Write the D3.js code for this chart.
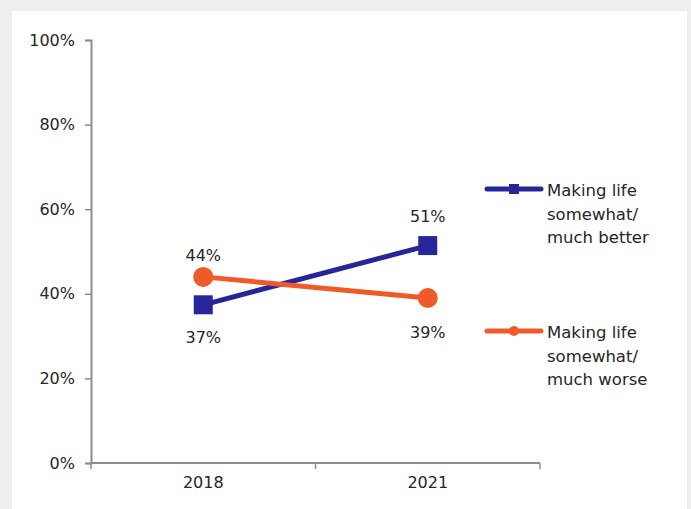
<!DOCTYPE html>
<html><head><meta charset="utf-8">
<script src="https://cdn.jsdelivr.net/npm/d3@7"></script>
<style>
html,body{margin:0;padding:0;background:#eeeeee;}
svg{display:block;}
text{font-family:"DejaVu Sans",sans-serif;fill:#262626;}
</style></head><body>
<svg id="c" width="691" height="509"></svg>
<script>
const categories = ["2018", "2021"];
const seriesNames = ["Making life somewhat/ much better", "Making life somewhat/ much worse"];
const better = [0.374, 0.514];
const worse = [0.44, 0.39];
const yTicks = [0, 0.2, 0.4, 0.6, 0.8, 1.0];

const svg = d3.select("#c");
svg.append("rect").attr("x", 12).attr("y", 11).attr("width", 675).attr("height", 498).attr("fill", "#fff");

const x0 = 91, x1 = 540, yTop = 40, yBot = 463;
const x = d3.scaleBand().domain(categories).range([x0, x1]);
const y = d3.scaleLinear().domain([0, 1]).range([yBot, yTop]);
const axisColor = "#8c8c8c";

const yAxis = svg.append("g").attr("transform", `translate(${x0},0)`)
  .call(d3.axisLeft(y).tickValues(yTicks).tickFormat(d3.format(".0%")).tickSize(6).tickPadding(10));
const xAxis = svg.append("g").attr("transform", `translate(0,${yBot})`)
  .call(d3.axisBottom(x).tickSize(0).tickPadding(14));
[yAxis, xAxis].forEach(g => {
  g.selectAll("path.domain").attr("stroke", axisColor).attr("stroke-width", 2);
  g.selectAll("line").attr("stroke", axisColor).attr("stroke-width", 1.5);
  g.selectAll("text").style("font-family", "DejaVu Sans, sans-serif").style("font-size", "16px").attr("fill", "#262626");
});
xAxis.select("path.domain").attr("d", `M${x0},0H${x1}`);
const bounds = [x0].concat(categories.map(c => x(c) + x.bandwidth()));
xAxis.selectAll("line.b").data(bounds).enter().append("line").attr("class", "b")
  .attr("x1", d => d).attr("x2", d => d).attr("y1", 0).attr("y2", 6)
  .attr("stroke", axisColor).attr("stroke-width", 1.5);

const cx = c => x(c) + x.bandwidth() / 2;
const blue = "#272699", orange = "#f05a28";
const line = d3.line().x((d, i) => cx(categories[i])).y(d => y(d));

svg.append("path").datum(better).attr("d", line).attr("fill", "none").attr("stroke", blue).attr("stroke-width", 5);
svg.append("path").datum(worse).attr("d", line).attr("fill", "none").attr("stroke", orange).attr("stroke-width", 5);

svg.selectAll("rect.mb").data(better).enter().append("rect").attr("class", "mb")
  .attr("x", (d, i) => cx(categories[i]) - 9.5).attr("y", d => y(d) - 9.5)
  .attr("width", 19).attr("height", 19).attr("fill", blue);
svg.selectAll("circle.mw").data(worse).enter().append("circle").attr("class", "mw")
  .attr("cx", (d, i) => cx(categories[i])).attr("cy", d => y(d)).attr("r", 10).attr("fill", orange);

const fmt = d3.format(".0%");
function labels(data, other, above, below) {
  svg.append("g").selectAll("text").data(data).enter().append("text")
    .attr("x", (d, i) => cx(categories[i]))
    .attr("y", (d, i) => d >= other[i] ? y(d) + above : y(d) + below)
    .attr("text-anchor", "middle").style("font-size", "16px")
    .text(d => fmt(d));
}
labels(better, worse, -24, 38);
labels(worse, better, -16, 40);

const legend = [{name: seriesNames[0], color: blue, shape: "sq", y: 189},
                {name: seriesNames[1], color: orange, shape: "ci", y: 331}];
legend.forEach(l => {
  const g = svg.append("g");
  g.append("line").attr("x1", 487).attr("x2", 541).attr("y1", l.y).attr("y2", l.y)
    .attr("stroke", l.color).attr("stroke-width", 5).attr("stroke-linecap", "round");
  if (l.shape === "sq") g.append("rect").attr("x", 509).attr("y", l.y - 5).attr("width", 10).attr("height", 10).attr("fill", l.color);
  else g.append("circle").attr("cx", 514).attr("cy", l.y).attr("r", 5).attr("fill", l.color);
  const parts = ["Making life", "somewhat/", l.name.endsWith("better") ? "much better" : "much worse"];
  const t = g.append("text").attr("x", 547).attr("y", l.y + 7).style("font-size", "16.5px");
  parts.forEach((p, i) => t.append("tspan").attr("x", 547).attr("dy", i ? 23.5 : 0).text(p));
});
</script></body></html>
